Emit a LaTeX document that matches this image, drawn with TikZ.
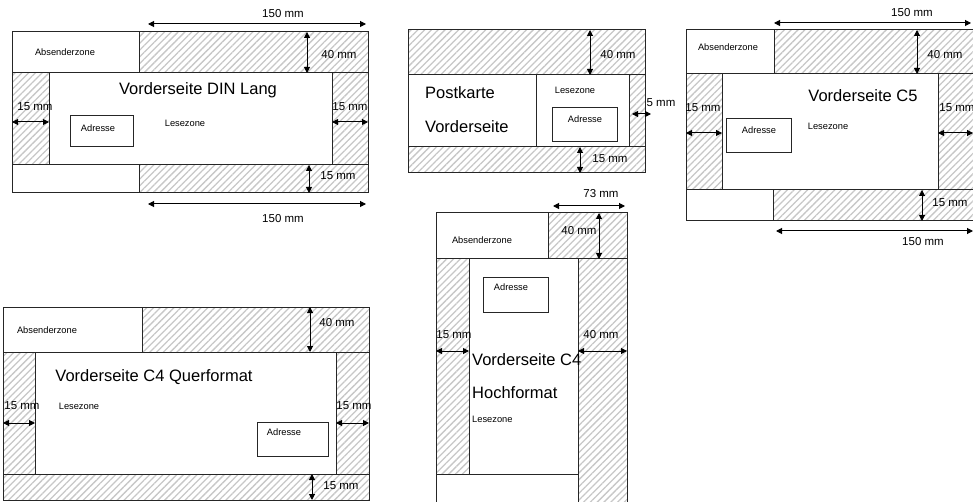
\documentclass[tikz,border=0pt]{standalone}
\usepackage{fontspec}
\setmainfont{Liberation Sans}
\usetikzlibrary{patterns.meta,arrows.meta}
\tikzset{
  hatch/.style={pattern={Lines[angle=45,distance=4.8pt,line width=1.3pt]},pattern color=black!22},
  box/.style={draw=black!85,line width=1pt},
  dim/.style={<->,line width=1pt},
  big/.style={font=\fontsize{16.5}{18}\selectfont,inner sep=0pt},
  mid/.style={font=\fontsize{11.5}{13}\selectfont,inner sep=0pt},
  small/.style={font=\fontsize{9.3}{10}\selectfont,inner sep=0pt},
}
\begin{document}
\begin{tikzpicture}[x=1pt,y=-1pt,>={Stealth[length=6pt,width=6pt,inset=0pt]}]
\useasboundingbox (0,0) rectangle (973,502);
% Vorderseite DIN Lang
\fill[hatch] (139,32) rectangle (368,73);
\fill[hatch] (12,73) rectangle (49,165);
\fill[hatch] (332,73) rectangle (368,165);
\fill[hatch] (139,165) rectangle (368,193);
\draw[box] (12,32) rectangle (368,193);
\draw[box] (12,73) -- (368,73) (12,165) -- (368,165);
\draw[box] (139,32) -- (139,73) (139,165) -- (139,193);
\draw[box] (49,73) -- (49,165) (332,73) -- (332,165);
\draw[box] (70,116) rectangle (133,147);
\node[small] (dlabs) at (65,52) {Absenderzone};
\node[big] (dltitle) at (198,90) {Vorderseite DIN Lang};
\node[small] (dladr) at (98,128) {Adresse};
\node[small] (dlles) at (185,123) {Lesezone};
\draw[dim] (148,24) -- (366,24);
\node[mid] (dlw1) at (283,14) {150 mm};
\draw[dim] (307,32) -- (307,73);
\node[mid] (dlh1) at (339,55) {40 mm};
\draw[dim] (12,122) -- (49,122);
\node[mid] (dll) at (35,107) {15 mm};
\draw[dim] (332,122) -- (368,122);
\node[mid] (dlr) at (350,107) {15 mm};
\draw[dim] (309,165) -- (309,193);
\node[mid] (dlh2) at (338,176) {15 mm};
\draw[dim] (148,204) -- (366,204);
\node[mid] (dlw2) at (283,219) {150 mm};
% Postkarte Vorderseite
\fill[hatch] (408,30) rectangle (645,75);
\fill[hatch] (629,75) rectangle (645,147);
\fill[hatch] (408,147) rectangle (645,173);
\draw[box] (408,30) rectangle (645,173);
\draw[box] (408,75) -- (645,75) (408,147) -- (645,147);
\draw[box] (536,75) -- (536,147) (629,75) -- (629,147);
\draw[box] (552,108) rectangle (617,142);
\node[big,anchor=west] (pktitle) at (425,93) {Postkarte};
\node[big,anchor=west] (pksub) at (425,127) {Vorderseite};
\node[small] (pkles) at (575,90) {Lesezone};
\node[small] (pkadr) at (585,119) {Adresse};
\draw[dim] (590,30) -- (590,75);
\node[mid] (pkh1) at (618,55) {40 mm};
\draw[dim] (632,114) -- (651,114);
\node[mid] (pkr) at (661,103) {5 mm};
\draw[dim] (580,147) -- (580,173);
\node[mid] (pkh2) at (610,159) {15 mm};
% Vorderseite C5
\fill[hatch] (774,30) rectangle (980,74);
\fill[hatch] (686,74) rectangle (722,190);
\fill[hatch] (938,74) rectangle (980,190);
\fill[hatch] (773,190) rectangle (980,221);
\draw[box] (686,30) rectangle (980,221);
\draw[box] (686,74) -- (980,74) (686,190) -- (980,190);
\draw[box] (774,30) -- (774,74) (773,190) -- (773,221);
\draw[box] (722,74) -- (722,190) (938,74) -- (938,190);
\draw[box] (726,119) rectangle (791,153);
\node[small] (cfabs) at (728,47) {Absenderzone};
\node[big] (cftitle) at (863,96) {Vorderseite C5};
\node[small] (cfadr) at (759,130) {Adresse};
\node[small] (cfles) at (828,126) {Lesezone};
\draw[dim] (774,23) -- (971,23);
\node[mid] (cfw1) at (912,13) {150 mm};
\draw[dim] (917,30) -- (917,74);
\node[mid] (cfh1) at (945,55) {40 mm};
\draw[dim] (686,133) -- (722,133);
\node[mid] (cfl) at (703,108) {15 mm};
\draw[dim] (938,133) -- (973,133);
\node[mid] (cfr) at (957,108) {15 mm};
\draw[dim] (922,190) -- (922,221);
\node[mid] (cfh2) at (950,203) {15 mm};
\draw[dim] (776,231) -- (973,231);
\node[mid] (cfw2) at (923,242) {150 mm};
% Vorderseite C4 Querformat
\fill[hatch] (142,307) rectangle (369,352);
\fill[hatch] (3,352) rectangle (35,474);
\fill[hatch] (336,352) rectangle (369,474);
\fill[hatch] (3,474) rectangle (369,500);
\draw[box] (3,307) rectangle (369,500);
\draw[box] (3,352) -- (369,352) (3,474) -- (369,474);
\draw[box] (142,307) -- (142,352);
\draw[box] (35,352) -- (35,474) (336,352) -- (336,474);
\draw[box] (257,422) rectangle (328,456);
\node[small] (cqabs) at (47,330) {Absenderzone};
\node[big] (cqtitle) at (154,377) {Vorderseite C4 Querformat};
\node[small] (cqles) at (79,406) {Lesezone};
\node[small] (cqadr) at (284,432) {Adresse};
\draw[dim] (310,307) -- (310,352);
\node[mid] (cqh1) at (337,323) {40 mm};
\draw[dim] (3,423) -- (35,423);
\node[mid] (cql) at (22,406) {15 mm};
\draw[dim] (336,423) -- (369,423);
\node[mid] (cqr) at (354,406) {15 mm};
\draw[dim] (312,474) -- (312,500);
\node[mid] (cqh2) at (341,486) {15 mm};
% Vorderseite C4 Hochformat
\fill[hatch] (548,213) rectangle (627,259);
\fill[hatch] (436,259) rectangle (469,474);
\fill[hatch] (578,259) rectangle (627,510);
\draw[box] (436,213) rectangle (627,510);
\draw[box] (436,259) -- (627,259) (436,474) -- (578,474);
\draw[box] (548,213) -- (548,259);
\draw[box] (469,259) -- (469,474) (578,259) -- (578,510);
\draw[box] (483,278) rectangle (548,312);
\node[small] (chabs) at (482,240) {Absenderzone};
\node[small] (chadr) at (511,287) {Adresse};
\node[big,anchor=west] (chtitle) at (472,360) {Vorderseite C4};
\node[big,anchor=west] (chsub) at (472,393) {Hochformat};
\node[small,anchor=west] (chles) at (472,419) {Lesezone};
\draw[dim] (553,206) -- (625,206);
\node[mid] (chw) at (601,194) {73 mm};
\draw[dim] (599,213) -- (599,259);
\node[mid] (chh) at (579,231) {40 mm};
\draw[dim] (436,351) -- (469,351);
\node[mid] (chl) at (454,335) {15 mm};
\draw[dim] (578,351) -- (627,351);
\node[mid] (chr) at (601,335) {40 mm};
\end{tikzpicture}
\end{document}
